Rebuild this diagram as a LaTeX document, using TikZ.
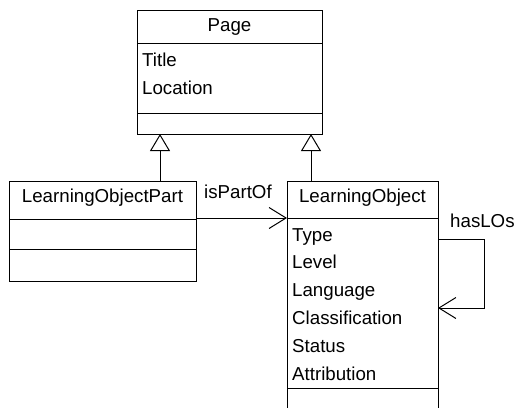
\documentclass[tikz,border=0pt]{standalone}
\usepackage{fontspec}
\setmainfont{Liberation Sans}
\usetikzlibrary{positioning,calc,arrows.meta}

\tikzset{
  classhead/.style={draw, line width=1pt, anchor=north west, inner xsep=0pt, inner ysep=0pt,
    outer sep=0pt, text height=21pt, align=center},
  compart/.style={draw, line width=1pt, inner sep=0pt, outer sep=0pt},
  attr/.style={anchor=base west, inner sep=0pt},
  gen/.style={line width=1pt, -{Triangle[open, length=17pt, width=20pt, line width=1pt]}},
  assoc/.style={line width=1pt, -{Straight Barb[length=17pt, width=21pt, line width=1pt]}}
}

\begin{document}
\begin{tikzpicture}[x=1pt, y=-1pt, font=\fontsize{18.7pt}{22pt}\selectfont]
    \clip (0,0) rectangle (514,407);
    \fill[white] (0,0) rectangle (514,407);

    % Classe Page
    \node[classhead, minimum width=185pt, text depth=12pt] (pageHead) at (137,10) {Page};
    \node[compart, minimum width=185pt, minimum height=70pt, below=0pt of pageHead] (pageAttr) {};
    \node[compart, minimum width=185pt, minimum height=21pt, below=0pt of pageAttr] (pageOps) {};
    \node[attr] (pageTitle) at ($(pageAttr.north west)+(5,23)$) {Title};
    \node[attr] (pageLoc) at ($(pageAttr.north west)+(5,51)$) {Location};

    % Classe LearningObjectPart
    \node[classhead, minimum width=187pt, text depth=17pt] (lopHead) at (9,181) {LearningObjectPart};
    \node[compart, minimum width=187pt, minimum height=30pt, below=0pt of lopHead] (lopAttr) {};
    \node[compart, minimum width=187pt, minimum height=32pt, below=0pt of lopAttr] (lopOps) {};

    % Classe LearningObject
    \node[classhead, minimum width=151pt, text depth=16pt] (loHead) at (287,181) {LearningObject};
    \node[compart, minimum width=151pt, minimum height=170pt, below=0pt of loHead] (loAttr) {};
    \node[compart, minimum width=151pt, minimum height=40pt, below=0pt of loAttr] (loOps) {};
    \foreach \a [count=\i] in {Type,Level,Language,Classification,Status,Attribution}
        \node[attr] (loAttr\i) at ($(loAttr.north west)+(5,{23+27.8*(\i-1)})$) {\a};

    % Généralisations
    \coordinate (genL) at ($(pageOps.south west)+(23,0)$);
    \coordinate (genR) at ($(pageOps.south west)+(174,0)$);
    \draw[gen] (lopHead.north -| genL) -- (genL);
    \draw[gen] (loHead.north -| genR) -- (genR);

    % Associations
    \draw[assoc] (loAttr.north west -| lopHead.east) -- (loAttr.north west);
    \node[attr] (partLbl) at ($(lopHead.north east)+(8,17)$) {isPartOf};
    \draw[assoc] ($(loAttr.north east)+(0,21)$) -- ++(46,0) |- ($(loAttr.north east)+(0,90)$);
    \node[attr] (hasLbl) at ($(loAttr.north east)+(12,9)$) {hasLOs};
\end{tikzpicture}
\end{document}
